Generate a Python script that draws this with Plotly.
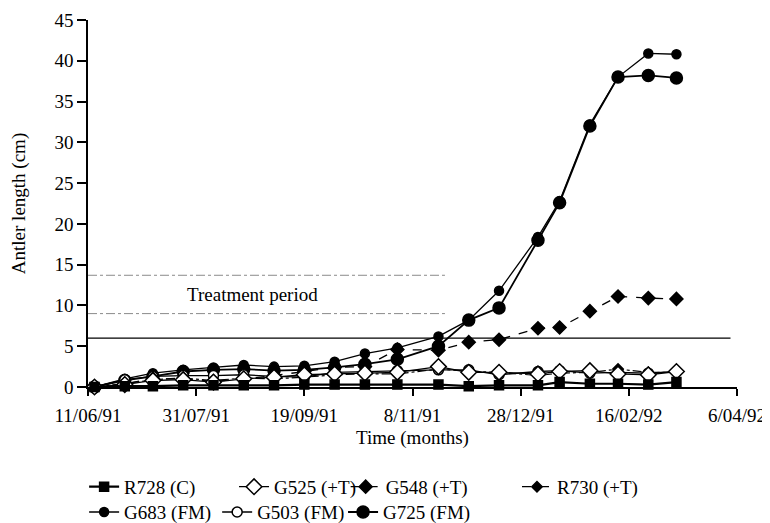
import plotly.graph_objects as go

# ---- data ----
dates = ["1991-06-14", "1991-06-28", "1991-07-11", "1991-07-25", "1991-08-08",
         "1991-08-22", "1991-09-05", "1991-09-19", "1991-10-03", "1991-10-17",
         "1991-11-01", "1991-11-20", "1991-12-04", "1991-12-18", "1992-01-05",
         "1992-01-15", "1992-01-29", "1992-02-11", "1992-02-25", "1992-03-09"]

r728 = [0.0, 0.1, 0.1, 0.2, 0.2, 0.2, 0.2, 0.3, 0.3, 0.3, 0.3, 0.3, 0.1, 0.2, 0.2, 0.6, 0.4, 0.4, 0.3, 0.6]
g525 = [0.0, 0.3, 0.8, 0.9, 0.6, 1.0, 1.2, 1.5, 1.6, 1.7, 1.8, 2.5, 1.8, 1.8, 1.6, 1.9, 2.0, 1.6, 1.5, 1.9]
g548 = [0.0, 0.4, 1.0, 1.0, 0.7, 1.0, 1.4, 1.9, 2.4, 2.5, 4.6, 4.5, 5.5, 5.8, 7.2, 7.3, 9.3, 11.1, 10.9, 10.8]
r730 = [0.0, 0.4, 0.9, 1.1, 0.8, 1.1, 1.0, 1.2, 1.5, 1.6, 1.6, 2.2, 1.9, 1.8, 1.4, 1.7, 1.8, 2.2, 1.8, 1.8]
g683 = [0.0, 1.0, 1.7, 2.1, 2.4, 2.7, 2.5, 2.6, 3.1, 4.1, 4.8, 6.2, 8.2, 11.8, 18.4, 22.8, 32.2, 38.0, 40.9, 40.8]
g503 = [0.0, 0.9, 1.3, 1.4, 1.4, 1.5, 1.3, 1.2, 1.8, 1.9, 2.0, 2.1, 2.1, 1.5, 1.9, 2.0, 1.7, 1.8, 1.7, 1.9]
g725 = [0.0, 0.8, 1.3, 1.9, 2.1, 2.2, 2.0, 2.1, 2.4, 2.8, 3.4, 5.0, 8.2, 9.7, 18.0, 22.6, 32.0, 38.0, 38.2, 37.9]

tick_dates = ["1991-06-11", "1991-07-31", "1991-09-19", "1991-11-08",
              "1991-12-28", "1992-02-16", "1992-04-06"]
tick_labels = ["11/06/91", "31/07/91", "19/09/91", "8/11/91",
               "28/12/91", "16/02/92", "6/04/92"]

treat_dates = ["1991-06-11", "1991-11-23"]
treat_upper = [13.7, 13.7]
treat_lower = [9.0, 9.0]
ref_dates = ["1991-06-11", "1992-04-03"]
ref_level = [6.0, 6.0]

FONT = "Liberation Serif, Times New Roman, Times, serif"
fig = go.Figure()

# reference / treatment lines
fig.add_trace(go.Scatter(x=treat_dates, y=treat_upper, mode="lines", showlegend=False,
                         line=dict(color="#8a8a8a", width=1, dash="dashdot"), hoverinfo="skip"))
fig.add_trace(go.Scatter(x=treat_dates, y=treat_lower, mode="lines", showlegend=False,
                         line=dict(color="#8a8a8a", width=1, dash="dashdot"), hoverinfo="skip"))
fig.add_trace(go.Scatter(x=ref_dates, y=ref_level, mode="lines", showlegend=False,
                         line=dict(color="black", width=1.3), hoverinfo="skip"))

series = [
    # name, values, marker symbol, size, fill, line width, dash, legend
    ("G683 (FM)", g683, "circle", 9, "black", 1.3, "solid", "legend5"),
    ("G725 (FM)", g725, "circle", 12, "black", 1.8, "solid", "legend7"),
    ("G503 (FM)", g503, "circle", 10, "white", 1.3, "solid", "legend6"),
    ("R730 (+T)", r730, "diamond", 8, "black", 1.2, "dashdot", "legend4"),
    ("G548 (+T)", g548, "diamond", 10, "black", 1.3, "dash", "legend3"),
    ("G525 (+T)", g525, "diamond", 12, "white", 1.3, "solid", "legend2"),
    ("R728 (C)", r728, "square", 9, "black", 2.2, "solid", "legend"),
]
for name, vals, sym, size, fill, lw, dash, leg in series:
    fig.add_trace(go.Scatter(
        x=dates, y=vals, mode="lines+markers", name=name, legend=leg,
        cliponaxis=False,
        line=dict(color="black", width=lw, dash=dash),
        marker=dict(symbol=sym, size=size, color=fill,
                    line=dict(color="black", width=1.5)),
    ))

# legends: one per entry, positioned like the reference
leg_pos = {
    "legend": (-0.006, -0.272), "legend2": (0.225, -0.272),
    "legend3": (0.397, -0.272), "legend4": (0.661, -0.272),
    "legend5": (-0.006, -0.341), "legend6": (0.199, -0.341), "legend7": (0.393, -0.341),
}
leg_layout = {}
for k, (lx, ly) in leg_pos.items():
    leg_layout[k] = dict(x=lx, y=ly, xanchor="left", yanchor="middle",
                         bgcolor="rgba(0,0,0,0)", font=dict(family=FONT, size=19, color="black"),
                         itemwidth=30, tracegroupgap=0)

fig.add_annotation(x="1991-08-26", y=11.3, text="Treatment period", showarrow=False,
                   font=dict(family=FONT, size=19, color="black"))

# page body has an 8 px margin: size and margins compensate for it
fig.update_layout(
    width=762, height=515,
    margin=dict(l=80, r=33, t=12, b=136, autoexpand=False),
    paper_bgcolor="white", plot_bgcolor="white",
    font=dict(family=FONT, size=18, color="black"),
    xaxis=dict(
        type="date", range=["1991-06-11", "1992-04-06"],
        tickvals=tick_dates, ticktext=tick_labels,
        showline=True, linecolor="black", linewidth=1.5,
        ticks="outside", ticklen=7, tickwidth=1.5, tickcolor="black",
        showgrid=False, zeroline=False,
        tickfont=dict(family=FONT, size=19, color="black"),
        ticklabelstandoff=3,
        title=dict(text="Time (months)", font=dict(family=FONT, size=19), standoff=6),
    ),
    yaxis=dict(
        range=[0, 45], dtick=5, tick0=0,
        showline=True, linecolor="black", linewidth=1.5,
        ticks="outside", ticklen=9, tickwidth=1.5, tickcolor="black",
        showgrid=False, zeroline=False,
        tickfont=dict(family=FONT, size=19, color="black"),
        title=dict(text="Antler length (cm)", font=dict(family=FONT, size=19), standoff=27),
    ),
    **leg_layout,
)

fig.write_html("out.html")
